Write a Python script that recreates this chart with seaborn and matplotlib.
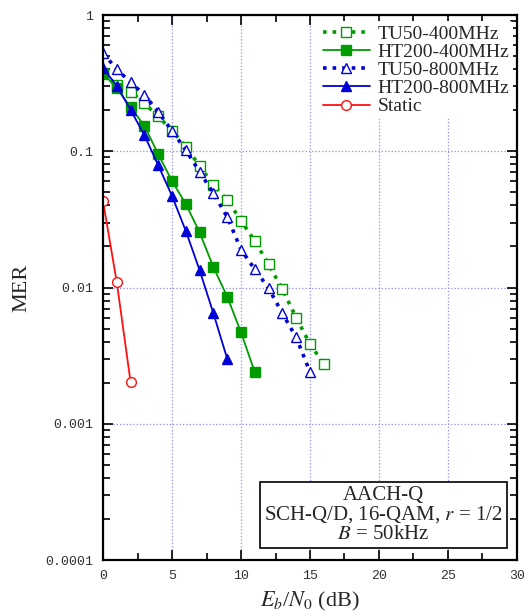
import numpy as np
import pandas as pd
import matplotlib
matplotlib.use('Agg')
import matplotlib.pyplot as plt
import matplotlib.ticker as mticker
import seaborn as sns

# data
ebn0_tu50_400 = [0, 1, 2, 3, 4, 5, 6, 7, 8, 9, 10, 11, 12, 13, 14, 15, 16]
mer_tu50_400 = [0.37, 0.306, 0.273, 0.225, 0.18, 0.142, 0.108, 0.078, 0.0565, 0.0438,
                0.031, 0.0219, 0.0148, 0.0097, 0.006, 0.00385, 0.00275]

ebn0_ht200_400 = [0, 1, 2, 3, 4, 5, 6, 7, 8, 9, 10, 11]
mer_ht200_400 = [0.375, 0.29, 0.21, 0.154, 0.095, 0.0605, 0.041, 0.0254, 0.0141,
                 0.00857, 0.00469, 0.00239]

ebn0_tu50_800 = [0, 1, 2, 3, 4, 5, 6, 7, 8, 9, 10, 11, 12, 13, 14, 15]
mer_tu50_800 = [0.524, 0.40, 0.32, 0.259, 0.195, 0.141, 0.102, 0.0708, 0.049, 0.033,
                0.019, 0.0136, 0.00987, 0.00646, 0.0043, 0.0024]

ebn0_ht200_800 = [0, 1, 2, 3, 4, 5, 6, 7, 8, 9]
mer_ht200_800 = [0.406, 0.303, 0.201, 0.131, 0.079, 0.047, 0.026, 0.0134, 0.00646, 0.0030]

ebn0_static = [0, 1, 2]
mer_static = [0.043, 0.0109, 0.00201]

x_ticks = [0, 5, 10, 15, 20, 25, 30]
y_ticks = [0.0001, 0.001, 0.01, 0.1, 1]
y_ticklabels = ["0.0001", "0.001", "0.01", "0.1", "1"]

sns.set_style("ticks")
plt.rcParams['font.family'] = ['Liberation Serif', 'DejaVu Serif']
plt.rcParams['mathtext.fontset'] = 'stix'

fig = plt.figure(figsize=(5.24, 6.15), dpi=100)
ax = fig.add_axes([0.1966, 0.0894, 0.79, 0.8862])

green = "#009c00"
blue = "#0000d8"
red = "#ff1010"

series = [
    ("TU50-400MHz", ebn0_tu50_400, mer_tu50_400, green, ":", "s", "white"),
    ("HT200-400MHz", ebn0_ht200_400, mer_ht200_400, green, "-", "s", green),
    ("TU50-800MHz", ebn0_tu50_800, mer_tu50_800, blue, ":", "^", "white"),
    ("HT200-800MHz", ebn0_ht200_800, mer_ht200_800, blue, "-", "^", blue),
    ("Static", ebn0_static, mer_static, red, "-", "o", "white"),
]

for name, xs, ys, col, ls, mk, fc in series:
    df = pd.DataFrame({"x": xs, "y": ys})
    lw = 2.6 if ls == ":" else 1.3
    sns.lineplot(data=df, x="x", y="y", ax=ax, color=col, linestyle=ls, linewidth=lw,
                 marker=mk, markersize=7.5 if mk != "o" else 7, markerfacecolor=fc,
                 markeredgecolor=col, markeredgewidth=1.0, label=name)

ax.set_yscale("log")
ax.set_xlim(0, 30)
ax.set_ylim(0.0001, 1)
ax.set_xticks(x_ticks)
ax.xaxis.set_minor_locator(mticker.MultipleLocator(2.5))
ax.set_yticks(y_ticks)
ax.set_yticklabels(y_ticklabels)
ax.yaxis.set_minor_locator(mticker.LogLocator(base=10, subs=np.arange(2, 10)))
ax.yaxis.set_minor_formatter(mticker.NullFormatter())

for lab in ax.get_xticklabels() + ax.get_yticklabels():
    lab.set_family("Liberation Mono")
    lab.set_fontsize(9.5)
    lab.set_color("#333333")

ax.tick_params(which="both", direction="in", top=True, right=True, width=1.2, color="black")
ax.tick_params(which="major", length=7, pad=7)
ax.tick_params(which="minor", length=5)

for s in ax.spines.values():
    s.set_linewidth(1.6)
    s.set_color("black")

ax.grid(True, which="major", color="#8c8cff", linestyle=":", linewidth=0.9)

ax.set_xlabel("$E_b$/$N_0$ (dB)", fontsize=16, labelpad=6)
ax.set_ylabel("MER", fontsize=16, labelpad=10)

leg = ax.legend(loc="upper right", bbox_to_anchor=(1.0, 0.996), fontsize=14, frameon=True,
                handlelength=2.4, handletextpad=0.4, labelspacing=0.03, borderpad=0.2,
                borderaxespad=0.2)
leg.get_frame().set_facecolor("white")
leg.get_frame().set_edgecolor("none")
leg.get_frame().set_alpha(1.0)

ax.text(0.6775, 0.0826, "AACH-Q\nSCH-Q/D, 16-QAM, $r$ = 1/2\n$B$ = 50kHz",
        transform=ax.transAxes, ha="center", va="center", fontsize=15, linespacing=0.95,
        bbox=dict(boxstyle="square,pad=0.2", facecolor="white", edgecolor="black", linewidth=1.2))

plt.savefig("out.png", dpi=100)
plt.close()
